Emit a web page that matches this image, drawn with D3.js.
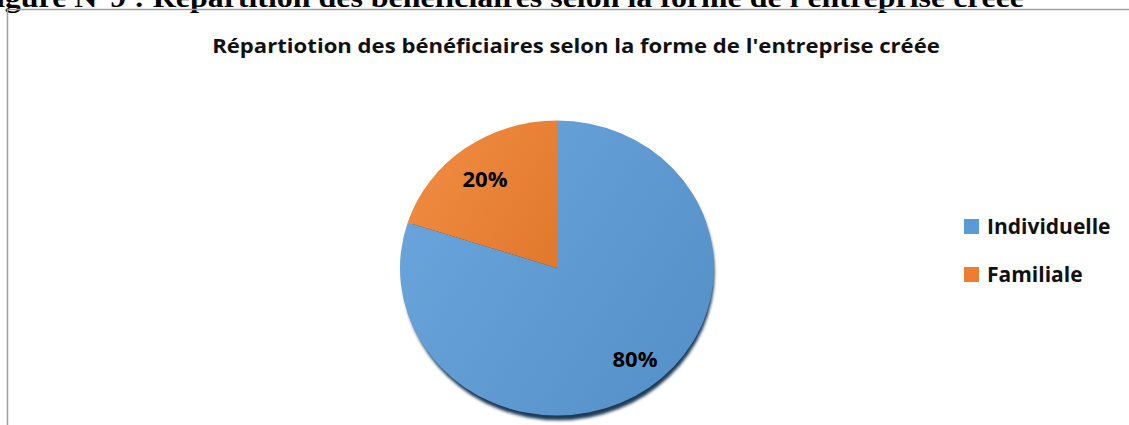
<!DOCTYPE html>
<html>
<head>
<meta charset="utf-8">
<script src="https://cdn.jsdelivr.net/npm/d3@7"></script>
<style>
  html, body { margin: 0; padding: 0; background: #fff; overflow: hidden; }
</style>
</head>
<body>
<div id="chart"></div>
<script>
// data
const categories = ["Individuelle", "Familiale"];
const values = [80, 20];
const labels = ["80%", "20%"];
const colors = ["#5B9BD5", "#ED7D31"];

const WIDTH = 1129, HEIGHT = 425;
const CX = 557, CY = 268, RADIUS = 157, TILT = 0.94;

const svg = d3.select("#chart")
              .append("svg")
              .attr("width", WIDTH)
              .attr("height", HEIGHT);

const defs = svg.append("defs");

// soft gradients like the excel fill
const shades = [["#6aa6dc", "#5590c8"], ["#f08c42", "#e27a2e"]];
shades.forEach((s, i) => {
    const g = defs.append("linearGradient")
                  .attr("id", "grad" + i)
                  .attr("x1", "0%").attr("y1", "20%")
                  .attr("x2", "100%").attr("y2", "80%");
    g.append("stop").attr("offset", "0%").attr("stop-color", s[0]);
    g.append("stop").attr("offset", "100%").attr("stop-color", s[1]);
});

const blur = defs.append("filter").attr("id", "blur")
                 .attr("x", "-10%").attr("y", "-10%")
                 .attr("width", "120%").attr("height", "120%");
blur.append("feGaussianBlur").attr("stdDeviation", 1.5);

// squeeze/stretch a text horizontally to the width seen in the reference
function fitX(sel, x, y, target) {
    const w = sel.node().getComputedTextLength();
    sel.attr("x", 0).attr("y", 0)
       .attr("transform", "translate(" + x + "," + y + ") scale(" + (target / w) + ",1)");
}

// figure caption from the document, cut off at the top
const caption = svg.append("text")
   .attr("text-anchor", "end")
   .style("font-family", "'Liberation Serif', 'DejaVu Serif', serif")
   .style("font-weight", "bold")
   .style("font-size", "27px")
   .text("Figure N°9 : Répartition des bénéficiaires selon la forme de l'entreprise créée");
fitX(caption, 1024, 7, 1048);

// chart frame (only top and left edge visible)
svg.append("path")
   .attr("d", "M7.5," + HEIGHT + "V9.5H" + WIDTH)
   .attr("fill", "none")
   .attr("stroke", "#a0a0a0")
   .attr("stroke-width", 1.5);

// title
const title = svg.append("text")
   .attr("text-anchor", "middle")
   .style("font-family", "'Open Sans', sans-serif")
   .style("font-weight", "bold")
   .style("font-size", "20px")
   .attr("fill", "#111")
   .text("Répartiotion des bénéficiaires selon la forme de l'entreprise créée");
fitX(title, 576, 53, 728);

// pie, starting at 12 o'clock, 80% clockwise then 20%
const pie = d3.pie().sort(null).value(d => d);
const arcs = pie(values);

const arc = d3.arc().innerRadius(0).outerRadius(RADIUS);
const labelArc = d3.arc().innerRadius(RADIUS * 0.78).outerRadius(RADIUS * 0.78);

const pieG = svg.append("g")
                .attr("transform", "translate(" + CX + "," + CY + ") scale(1," + TILT + ")");

// shadow under the disc
pieG.append("ellipse")
    .attr("cx", 1.5).attr("cy", 5)
    .attr("rx", RADIUS - 1).attr("ry", RADIUS)
    .attr("fill", "#1f3a55")
    .attr("filter", "url(#blur)");

pieG.selectAll("path.slice")
    .data(arcs)
    .enter()
    .append("path")
    .attr("class", "slice")
    .attr("d", arc)
    .attr("fill", (d, i) => "url(#grad" + i + ")");

svg.selectAll("text.lbl")
   .data(arcs)
   .enter()
   .append("text")
   .attr("class", "lbl")
   .attr("x", d => CX + labelArc.centroid(d)[0] + (d.index === 0 ? 6 : 0))
   .attr("y", d => CY + labelArc.centroid(d)[1] * TILT + (d.index === 1 ? 4 : -2))
   .attr("dy", "0.36em")
   .attr("text-anchor", "middle")
   .style("font-family", "'Open Sans', sans-serif")
   .style("font-weight", "bold")
   .style("font-size", "22px")
   .attr("fill", "#000")
   .text((d, i) => labels[i]);

// legend
const legend = svg.append("g").attr("transform", "translate(964,219)");
const item = legend.selectAll("g")
                   .data(categories)
                   .enter()
                   .append("g")
                   .attr("transform", (d, i) => "translate(0," + i * 48 + ")");
item.append("rect")
    .attr("width", 15).attr("height", 15)
    .attr("fill", (d, i) => colors[i]);
item.append("text")
    .attr("x", 23)
    .attr("y", 14.5)
    .style("font-family", "'Open Sans', sans-serif")
    .style("font-weight", "bold")
    .style("font-size", "21px")
    .attr("fill", "#111")
    .text(d => d);
</script>
</body>
</html>
